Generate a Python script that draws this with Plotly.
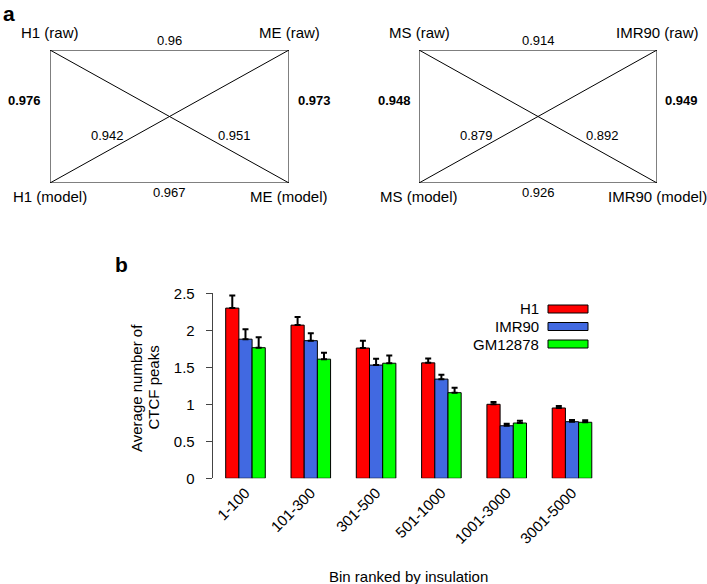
import plotly.graph_objects as go

W, H = 707, 584

# ---- panel a: correlation diagrams ----
left_corners = ['H1 (raw)', 'ME (raw)', 'H1 (model)', 'ME (model)']
left_values = ['0.96', '0.967', '0.976', '0.973', '0.942', '0.951']  # top, bottom, left, right, diag1, diag2
right_corners = ['MS (raw)', 'IMR90 (raw)', 'MS (model)', 'IMR90 (model)']
right_values = ['0.914', '0.926', '0.948', '0.949', '0.879', '0.892']

# ---- panel b: bar chart ----
bins = ['1-100', '101-300', '301-500', '501-1000', '1001-3000', '3001-5000']
series = ['H1', 'IMR90', 'GM12878']
colors = ['#FF0000', '#4169E1', '#00FF00']
h1_mean = [2.30, 2.07, 1.76, 1.56, 1.00, 0.95]
h1_err = [0.17, 0.11, 0.10, 0.06, 0.03, 0.027]
imr90_mean = [1.88, 1.86, 1.53, 1.34, 0.71, 0.765]
imr90_err = [0.135, 0.10, 0.085, 0.058, 0.027, 0.023]
gm_mean = [1.765, 1.61, 1.555, 1.157, 0.747, 0.757]
gm_err = [0.14, 0.085, 0.105, 0.067, 0.03, 0.027]
means = [h1_mean, imr90_mean, gm_mean]
errs = [h1_err, imr90_err, gm_err]

FONT = 'Liberation Sans, Arial, sans-serif'


def px(x):
    return x / W


def py(y):
    return 1 - y / H


fig = go.Figure()

for name, col, m, e in zip(series, colors, means, errs):
    fig.add_trace(go.Bar(
        x=bins, y=m, name=name,
        marker=dict(color=col, line=dict(color='black', width=1)),
        error_y=dict(type='data', array=e, arrayminus=[0] * len(e), symmetric=False,
                     color='black', thickness=2, width=3),
        showlegend=False,
    ))


# diagram boxes drawn on their own axes (unit square)
def diagram(axn, corners, vals):
    xa, ya = 'x' + axn, 'y' + axn
    fig.add_trace(go.Scatter(x=[0, 1, 1, 0, 0, None, 0, 1, None, 0, 1],
                             y=[1, 1, 0, 0, 1, None, 1, 0, None, 0, 1],
                             mode='lines', line=dict(color='black', width=1),
                             xaxis=xa, yaxis=ya, showlegend=False, hoverinfo='skip'))
    pos = [(0, 1.128), (1, 1.128), (0, -0.105), (1, -0.105)]
    for (x, y), t in zip(pos, corners):
        fig.add_annotation(x=x, y=y, xref=xa + ' domain', yref=ya + ' domain', text=t,
                           showarrow=False, xanchor='center', yanchor='middle',
                           font=dict(size=15, color='black', family=FONT))
    vpos = [(0.5, 1.075, False), (0.5, -0.068, False), (-0.105, 0.617, True),
            (1.105, 0.617, True), (0.24, 0.36, False), (0.77, 0.36, False)]
    for (x, y, b), t in zip(vpos, vals):
        fig.add_annotation(x=x, y=y, xref=xa + ' domain', yref=ya + ' domain',
                           text='<b>%s</b>' % t if b else t, showarrow=False,
                           xanchor='center', yanchor='middle',
                           font=dict(size=13, color='black', family=FONT))


diagram('2', left_corners, left_values)
diagram('3', right_corners, right_values)

hidden = dict(range=[0, 1], visible=False, fixedrange=True, automargin=False)

fig.update_layout(
    width=W, height=H,
    margin=dict(l=0, r=0, t=0, b=0),
    paper_bgcolor='white', plot_bgcolor='white',
    font=dict(family=FONT, size=15, color='black'),
    barmode='group', bargap=0.394, bargroupgap=0,
    xaxis=dict(domain=[px(212.7), px(620)], range=[-0.502, 5.735], automargin=False,
               showline=False, showgrid=False, zeroline=False, ticks='',
               tickangle=-45, tickfont=dict(size=15), ticklabelstandoff=2),
    yaxis=dict(domain=[py(478.3), py(293.3)], range=[0, 2.5], automargin=False,
               showline=True, linecolor='#444', linewidth=1,
               showgrid=False, zeroline=False, ticks='outside', ticklen=6,
               tickcolor='#444', tickvals=[0, 0.5, 1, 1.5, 2, 2.5],
               ticktext=['0', '0.5', '1', '1.5', '2', '2.5'],
               tickfont=dict(size=15), ticklabelstandoff=8),
    xaxis2=dict(domain=[px(50), px(289)], anchor='y2', **hidden),
    yaxis2=dict(domain=[py(183), py(50)], anchor='x2', **hidden),
    xaxis3=dict(domain=[px(419), px(657)], anchor='y3', **hidden),
    yaxis3=dict(domain=[py(183), py(50)], anchor='x3', **hidden),
)

# panel letters and axis titles
fig.add_annotation(x=px(1), y=1, xref='paper', yref='paper', xanchor='left', yanchor='top',
                   text='<b>a</b>', showarrow=False, font=dict(size=21, family=FONT))
fig.add_annotation(x=px(113), y=py(264), xref='paper', yref='paper', xanchor='left', yanchor='middle',
                   text='<b>b</b>', showarrow=False, font=dict(size=21, family=FONT))
for xp, line in [(136, 'Average number of'), (152.5, 'CTCF peaks')]:
    fig.add_annotation(x=px(xp), y=py(388), xref='paper', yref='paper', textangle=-90,
                       xanchor='center', yanchor='middle',
                       text=line, showarrow=False, font=dict(size=15, family=FONT))
fig.add_annotation(x=px(408), y=py(576), xref='paper', yref='paper',
                   xanchor='center', yanchor='middle',
                   text='Bin ranked by insulation', showarrow=False,
                   font=dict(size=15, family=FONT))

# legend (text left of swatch, as in the original)
for i, (name, col) in enumerate(zip(series, colors)):
    yc = 309 + i * 17.5
    fig.add_shape(type='rect', xref='paper', yref='paper',
                  x0=px(548), x1=px(588), y0=py(yc + 4), y1=py(yc - 4),
                  fillcolor=col, line=dict(color='black', width=1))
    fig.add_annotation(x=px(541), y=py(yc), xref='paper', yref='paper',
                       xanchor='right', yanchor='middle',
                       text=name, showarrow=False, font=dict(size=15, family=FONT))

# drop the default page margin so the figure fills the window exactly
fig.write_html('out.html', config={'displayModeBar': False},
               post_script="document.body.style.margin='0';document.body.style.overflow='hidden';")
